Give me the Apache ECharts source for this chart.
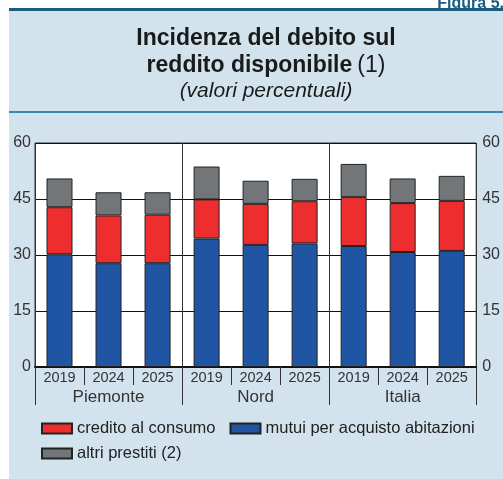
<!DOCTYPE html>
<html>
<head>
<meta charset="utf-8">
<script src="https://cdn.jsdelivr.net/npm/echarts@6/dist/echarts.min.js"></script>
<style>
  body { margin: 0; background: #ffffff; }
  #panel { position: absolute; left: 9px; top: 8px; width: 494px; height: 468px; background: #d3e3ed; border-top: 3px solid #1b5e80; }
  #sep { position: absolute; left: 9px; top: 111px; width: 494px; height: 2px; background: #3f86aa; }
  #chart { position: absolute; left: 0; top: 0; width: 503px; height: 479px; }
</style>
</head>
<body>
<div id="panel"></div>
<div id="sep"></div>
<div id="chart"></div>
<script>
// anni e aree
var years = ['2019', '2024', '2025', '2019', '2024', '2025', '2019', '2024', '2025'];
var areas = ['Piemonte', 'Nord', 'Italia'];

// valori percentuali (segmenti impilati)
var mutui = [30.2, 27.8, 27.8, 34.4, 32.7, 33.1, 32.4, 30.8, 31.1];
var credito = [12.6, 12.8, 13.0, 10.5, 11.0, 11.3, 13.1, 13.1, 13.4];
var altri = [7.7, 6.2, 6.0, 8.8, 6.2, 6.0, 8.9, 6.6, 6.7];

var yTicks = [0, 15, 30, 45, 60];

var font = 'Liberation Sans, Arial, sans-serif';

function barSeries(name, data, color) {
    return {
        name: name,
        type: 'bar',
        stack: 'tot',
        data: data,
        barWidth: 26,
        itemStyle: { color: color, borderColor: '#222', borderWidth: 1 }
    };
}

var legendText = { fontSize: 16.5, color: '#222', fontFamily: font };

var option = {
    animation: false,
    textStyle: { fontFamily: font },
    title: [{
        text: '{b|Incidenza del debito sul}\n{b|reddito disponibile} {n|(1)}\n{i|(valori percentuali)}',
        left: 261,
        textAlign: 'center',
        top: 20,
        textStyle: {
            rich: {
                b: { fontFamily: font, fontSize: 23, fontWeight: 'bold', color: '#1a1a1a', lineHeight: 27 },
                n: { fontFamily: font, fontSize: 23, fontWeight: 'normal', color: '#1a1a1a', lineHeight: 27 },
                i: { fontFamily: font, fontSize: 21, fontWeight: 'normal', fontStyle: 'italic', color: '#1a1a1a', lineHeight: 25 }
            }
        }
    }, {
        text: 'Figura 5.',
        right: -6,
        top: -9,
        textStyle: { fontFamily: font, fontSize: 16, fontWeight: 'bold', color: '#1b5e80' }
    }],
    legend: [{
        data: ['credito al consumo', 'mutui per acquisto abitazioni'],
        left: 36,
        top: 415,
        icon: 'rect',
        itemWidth: 30,
        itemHeight: 10,
        itemGap: 14,
        textStyle: legendText
    }, {
        data: ['altri prestiti (2)'],
        left: 36,
        top: 440,
        icon: 'rect',
        itemWidth: 30,
        itemHeight: 10,
        textStyle: legendText
    }],
    grid: {
        left: 35,
        right: 20,
        top: 143,
        bottom: 112,
        show: true,
        backgroundColor: '#ffffff',
        borderColor: '#333',
        borderWidth: 1
    },
    xAxis: [{
        type: 'category',
        data: years,
        position: 'bottom',
        offset: 0,
        axisLine: { lineStyle: { color: '#111', width: 2 } },
        axisTick: { show: true, interval: 0, length: 18, lineStyle: { color: '#333' } },
        axisLabel: { interval: 0, fontSize: 14.5, color: '#333', margin: 3 },
        splitLine: { show: false }
    }, {
        type: 'category',
        data: areas,
        position: 'bottom',
        offset: 0,
        axisLine: { show: false },
        axisTick: { show: true, interval: 0, length: 38, lineStyle: { color: '#333' } },
        axisLabel: { interval: 0, fontSize: 17, color: '#333', margin: 22 },
        splitLine: { show: true, interval: 0, lineStyle: { color: '#333', width: 1 } }
    }],
    yAxis: [{
        type: 'value',
        min: yTicks[0],
        max: yTicks[yTicks.length - 1],
        interval: 15,
        position: 'left',
        axisLine: { show: false },
        axisTick: { show: false },
        axisLabel: { fontSize: 16, color: '#333', margin: 4 },
        splitLine: { lineStyle: { color: '#111', width: 1 } }
    }, {
        type: 'value',
        min: yTicks[0],
        max: yTicks[yTicks.length - 1],
        interval: 15,
        position: 'right',
        axisLine: { show: false },
        axisTick: { show: false },
        axisLabel: { fontSize: 16, color: '#333', margin: 6 },
        splitLine: { show: false }
    }],
    series: [
        barSeries('mutui per acquisto abitazioni', mutui, '#1f55a3'),
        barSeries('credito al consumo', credito, '#ee2d2e'),
        barSeries('altri prestiti (2)', altri, '#737678')
    ]
};

var myChart = echarts.init(document.getElementById('chart'), null, { renderer: 'canvas' });
myChart.setOption(option);
</script>
</body>
</html>
